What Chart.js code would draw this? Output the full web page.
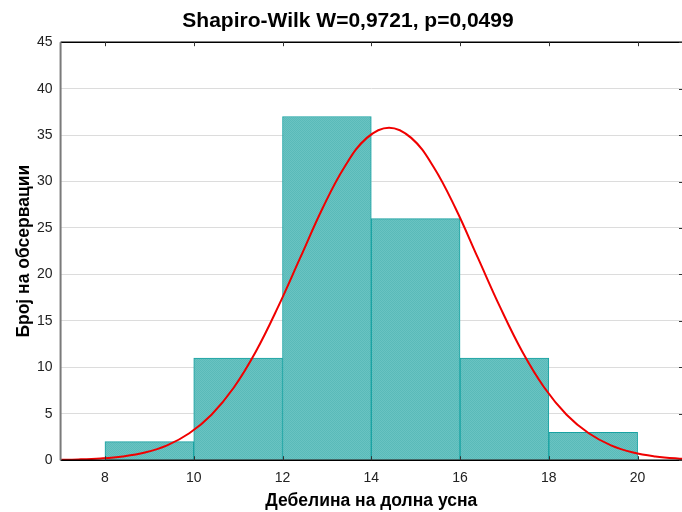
<!DOCTYPE html>
<html>
<head>
<meta charset="utf-8">
<script src="https://cdn.jsdelivr.net/npm/chart.js@4/dist/chart.umd.min.js"></script>
<style>
  html, body { margin: 0; padding: 0; background: #fff; }
  #wrap { width: 682px; height: 512px; }
</style>
</head>
<body>
<div id="wrap"><canvas id="histChart" width="682" height="512"></canvas></div>
<script>
// Histogram of lower lip thickness with fitted normal curve

// Bin centres (bins are 2 wide) and counts
var binCenters = [9, 11, 13, 15, 17, 19];
var binCounts = [2, 11, 37, 26, 11, 3];

// Fitted normal curve, expected counts per bin (runs past both plot edges)
var curveX = [6.9, 7.4, 7.9, 8.4, 8.9, 9.4, 9.9, 10.4, 10.9, 11.4, 11.9, 12.4, 12.9, 13.4, 13.9,
  14.4, 14.9, 15.4, 15.9, 16.4, 16.9, 17.4, 17.9, 18.4, 18.9, 19.4, 19.9, 20.4, 20.9, 21.4];
var curveY = [0.03, 0.08, 0.19, 0.41, 0.83, 1.6, 2.9, 4.9, 7.8, 11.7, 16.5, 21.8, 27.1, 31.6, 34.7,
  35.8, 34.7, 31.6, 27.1, 21.8, 16.5, 11.7, 7.8, 4.9, 2.9, 1.6, 0.83, 0.41, 0.19, 0.08];

var xTicks = [8, 10, 12, 14, 16, 18, 20];
var yTicks = [0, 5, 10, 15, 20, 25, 30, 35, 40, 45];

var titleText = "Shapiro-Wilk W=0,9721, p=0,0499";
var xTitle = "Дебелина на долна усна";
var yTitle = "Број на обсервации";

var fontFamily = "'Liberation Sans', Arial, sans-serif";

// fine dotted teal fill like the original bars
function makeFill() {
  var c = document.createElement("canvas");
  c.width = 2;
  c.height = 2;
  var g = c.getContext("2d");
  g.fillStyle = "#6ac3c2";
  g.fillRect(0, 0, 2, 2);
  g.fillStyle = "#59bab9";
  g.fillRect(0, 0, 1, 1);
  g.fillRect(1, 1, 1, 1);
  return g.createPattern(c, "repeat");
}

// frame: black top/bottom border, grey left axis, inward ticks
var frameTicks = {
  id: "frameTicks",
  afterDatasetsDraw: function (chart) {
    var ctx = chart.ctx;
    var a = chart.chartArea;
    var xs = chart.scales.x;
    var ys = chart.scales.y;
    ctx.save();
    ctx.strokeStyle = "#000";
    ctx.lineWidth = 1.5;
    ctx.beginPath();
    ctx.moveTo(a.left, a.top);
    ctx.lineTo(a.right, a.top);
    ctx.moveTo(a.left, a.bottom);
    ctx.lineTo(a.right, a.bottom);
    ctx.stroke();
    ctx.lineWidth = 1;
    ctx.strokeStyle = "#333";
    ctx.beginPath();
    xTicks.forEach(function (v) {
      var px = Math.round(xs.getPixelForValue(v)) + 0.5;
      ctx.moveTo(px, a.top);
      ctx.lineTo(px, a.top + 4);
      ctx.moveTo(px, a.bottom);
      ctx.lineTo(px, a.bottom - 4);
    });
    yTicks.forEach(function (v) {
      var py = Math.round(ys.getPixelForValue(v)) + 0.5;
      ctx.moveTo(a.right, py);
      ctx.lineTo(a.right - 3, py);
    });
    ctx.stroke();
    ctx.strokeStyle = "#7a7a7a";
    ctx.lineWidth = 2;
    ctx.beginPath();
    ctx.moveTo(a.left, a.top);
    ctx.lineTo(a.left, a.bottom);
    ctx.stroke();
    ctx.restore();
  }
};

var ctx = document.getElementById("histChart").getContext("2d");

new Chart(ctx, {
  data: {
    datasets: [
      {
        type: "bar",
        data: binCenters.map(function (c, i) { return { x: c, y: binCounts[i] }; }),
        backgroundColor: makeFill(),
        borderColor: "#17a2a2",
        borderWidth: 1,
        barPercentage: 1,
        categoryPercentage: 1,
        order: 2
      },
      {
        type: "line",
        data: curveX.map(function (x, i) { return { x: x, y: curveY[i] }; }),
        borderColor: "#f00000",
        borderWidth: 2,
        pointRadius: 0,
        tension: 0.4,
        fill: false,
        order: 1
      }
    ]
  },
  options: {
    responsive: false,
    animation: false,
    layout: { padding: { left: 14, right: 0, top: 0, bottom: 0 } },
    plugins: {
      legend: { display: false },
      tooltip: { enabled: false },
      title: {
        display: true,
        text: titleText,
        color: "#000",
        font: { family: fontFamily, size: 21, weight: "bold" },
        padding: { top: 9, bottom: 8 }
      }
    },
    scales: {
      x: {
        type: "linear",
        min: 7,
        max: 21,
        offset: false,
        afterBuildTicks: function (axis) {
          axis.ticks = xTicks.map(function (v) { return { value: v }; });
        },
        grid: { display: false, drawTicks: false, offset: false },
        border: { display: false },
        ticks: {
          color: "#222",
          padding: 10,
          font: { family: fontFamily, size: 14 }
        },
        title: {
          display: true,
          text: xTitle,
          color: "#000",
          font: { family: fontFamily, size: 17.5, weight: "bold" },
          padding: { top: -6, bottom: 0 }
        }
      },
      y: {
        min: 0,
        max: 45,
        afterBuildTicks: function (axis) {
          axis.ticks = yTicks.map(function (v) { return { value: v }; });
        },
        grid: { color: "#dcdcdc", lineWidth: 1, drawTicks: false },
        border: { display: false },
        ticks: {
          color: "#222",
          padding: 8,
          font: { family: fontFamily, size: 14 }
        },
        title: {
          display: true,
          text: yTitle,
          color: "#000",
          font: { family: fontFamily, size: 17.5, weight: "bold" },
          padding: { top: 0, bottom: -6 }
        }
      }
    }
  },
  plugins: [frameTicks]
});
</script>
</body>
</html>
